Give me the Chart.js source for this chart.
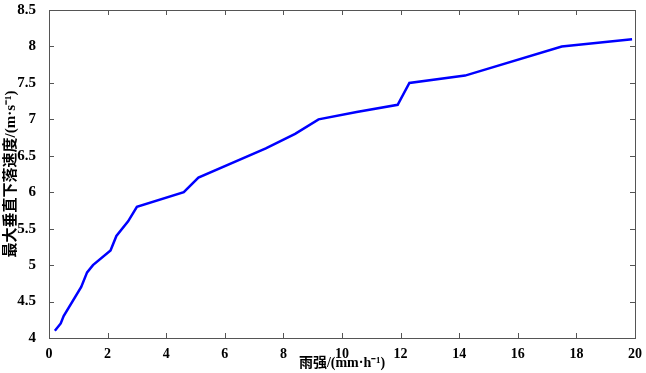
<!DOCTYPE html>
<html lang="zh">
<head>
    <meta charset="utf-8">
    <title>雨强与最大垂直下落速度</title>
    <script src="https://cdn.jsdelivr.net/npm/chart.js@4/dist/chart.umd.min.js"></script>
    <style>
        html, body { margin: 0; padding: 0; background: #fff; }
        #wrap { width: 646px; height: 373px; }
    </style>
</head>
<body>
<div id="wrap"><canvas id="graph" width="646" height="373"></canvas></div>

<script>
    // Data
    var rainRate = [0.2, 0.4, 0.5, 1.1, 1.3, 1.5, 2.1, 2.3, 2.7, 3.0, 4.6, 5.1, 7.4, 8.4, 9.2, 10.5, 11.9, 12.3, 14.2, 17.5, 19.9];
    var maxSpeed = [4.1, 4.2, 4.3, 4.7, 4.9, 5.0, 5.2, 5.4, 5.6, 5.8, 6.0, 6.2, 6.6, 6.8, 7.0, 7.1, 7.2, 7.5, 7.6, 8.0, 8.1];
    var xTicks = [0, 2, 4, 6, 8, 10, 12, 14, 16, 18, 20];
    var yTicks = [4, 4.5, 5, 5.5, 6, 6.5, 7, 7.5, 8, 8.5];

    var FONT = "'Liberation Serif', 'Times New Roman', 'Noto Sans CJK SC', serif";
    var AXIS = "#555";

    // MATLAB style box with inward ticks on all four sides
    var boxTicks = {
        id: "boxTicks",
        afterDraw: function(chart) {
            var ctx = chart.ctx, a = chart.chartArea;
            var xs = chart.scales.x, ys = chart.scales.y;
            var len = 5;
            ctx.save();
            ctx.strokeStyle = AXIS;
            ctx.lineWidth = 1;
            ctx.beginPath();
            xTicks.forEach(function(v) {
                var px = Math.round(xs.getPixelForValue(v)) + 0.5;
                ctx.moveTo(px, a.bottom); ctx.lineTo(px, a.bottom - len);
                ctx.moveTo(px, a.top); ctx.lineTo(px, a.top + len);
            });
            yTicks.forEach(function(v) {
                var py = Math.round(ys.getPixelForValue(v)) + 0.5;
                ctx.moveTo(a.left, py); ctx.lineTo(a.left + len, py);
                ctx.moveTo(a.right, py); ctx.lineTo(a.right - len, py);
            });
            ctx.stroke();
            ctx.strokeRect(Math.round(a.left) + 0.5, Math.round(a.top) + 0.5,
                Math.round(a.right - a.left), Math.round(a.bottom - a.top));
            ctx.restore();
        }
    };

    var points = rainRate.map(function(x, i) { return { x: x, y: maxSpeed[i] }; });

    new Chart(document.getElementById("graph").getContext("2d"), {
        type: "line",
        data: {
            datasets: [{
                data: points,
                borderColor: "#0000ff",
                borderWidth: 2.5,
                pointRadius: 0,
                tension: 0,
                fill: false
            }]
        },
        options: {
            responsive: false,
            animation: false,
            layout: { padding: { top: 10, right: 11, left: 2, bottom: 0 } },
            plugins: { legend: { display: false }, tooltip: { enabled: false } },
            scales: {
                x: {
                    type: "linear",
                    min: 0, max: 20,
                    afterBuildTicks: function(s) { s.ticks = xTicks.map(function(v) { return { value: v }; }); },
                    afterFit: function(s) { s.height = 35; },
                    grid: { display: false },
                    border: { display: false },
                    ticks: {
                        color: "#000", padding: 1, maxRotation: 0,
                        font: { family: FONT, size: 14, weight: "bold", lineHeight: 1 },
                        callback: function(v) { return String(v); }
                    },
                    title: {
                        display: true,
                        text: "雨强/(mm·h⁻¹)",
                        color: "#000",
                        padding: { top: 0, bottom: 3 },
                        font: { family: FONT, size: 14, weight: "bold", lineHeight: 1 }
                    }
                },
                y: {
                    type: "linear",
                    min: 4, max: 8.5,
                    afterBuildTicks: function(s) { s.ticks = yTicks.map(function(v) { return { value: v }; }); },
                    afterFit: function(s) { s.width = 47; s.paddingTop = 0; s.paddingBottom = 0; },
                    grid: { display: false },
                    border: { display: false },
                    ticks: {
                        color: "#000", padding: 5,
                        font: { family: FONT, size: 15, weight: "bold" },
                        callback: function(v) { return String(v); }
                    },
                    title: {
                        display: true,
                        text: "最大垂直下落速度/(m·s⁻¹)",
                        color: "#000",
                        padding: { top: 0, bottom: 0 },
                        font: { family: FONT, size: 15, weight: "bold" }
                    }
                }
            }
        },
        plugins: [boxTicks]
    });
</script>
</body>
</html>
